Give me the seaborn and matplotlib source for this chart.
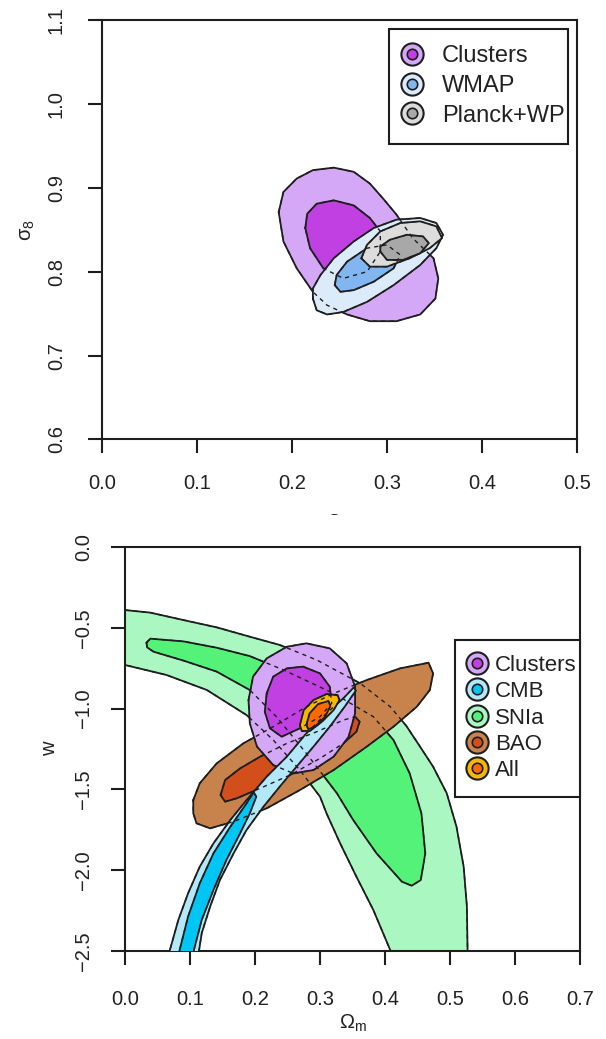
import numpy as np
import pandas as pd
import matplotlib
matplotlib.use("Agg")
import matplotlib.pyplot as plt
import seaborn as sns
from matplotlib.lines import Line2D
from matplotlib.legend_handler import HandlerTuple
from matplotlib.patches import Rectangle

# ------------------------------------------------------------------
# Top panel: sigma_8 vs Omega_m confidence contours
# ------------------------------------------------------------------
clus_s8_out_om = [0.186, 0.191, 0.205, 0.222, 0.244, 0.265, 0.282, 0.296, 0.310, 0.327, 0.349,
                  0.354, 0.351, 0.335, 0.310, 0.282, 0.258, 0.237, 0.222, 0.205, 0.191]
clus_s8_out_s8 = [0.871, 0.895, 0.911, 0.921, 0.924, 0.919, 0.905, 0.887, 0.868, 0.840, 0.816,
                  0.792, 0.768, 0.749, 0.741, 0.741, 0.749, 0.760, 0.776, 0.804, 0.836]
clus_s8_in_om = [0.214, 0.216, 0.226, 0.244, 0.265, 0.282, 0.293, 0.293, 0.279, 0.254, 0.233, 0.219]
clus_s8_in_s8 = [0.852, 0.869, 0.881, 0.885, 0.879, 0.864, 0.848, 0.824, 0.800, 0.792, 0.804, 0.828]

wmap_out_om = [0.222, 0.226, 0.237, 0.254, 0.279, 0.307, 0.335, 0.352, 0.359, 0.352, 0.335,
               0.310, 0.286, 0.265, 0.244, 0.230, 0.222]
wmap_out_s8 = [0.768, 0.754, 0.749, 0.752, 0.764, 0.784, 0.808, 0.828, 0.844, 0.858, 0.864,
               0.862, 0.852, 0.836, 0.816, 0.796, 0.780]
wmap_in_om = [0.245, 0.251, 0.265, 0.286, 0.307, 0.314, 0.300, 0.279, 0.258, 0.247]
wmap_in_s8 = [0.784, 0.776, 0.778, 0.788, 0.804, 0.820, 0.832, 0.828, 0.812, 0.796]

planck_out_om = [0.273, 0.282, 0.300, 0.324, 0.345, 0.358, 0.352, 0.335, 0.314, 0.293, 0.279]
planck_out_s8 = [0.816, 0.806, 0.806, 0.816, 0.828, 0.840, 0.854, 0.860, 0.858, 0.848, 0.832]
planck_in_om = [0.293, 0.300, 0.317, 0.335, 0.344, 0.338, 0.321, 0.303, 0.293]
planck_in_s8 = [0.824, 0.814, 0.814, 0.822, 0.834, 0.842, 0.844, 0.838, 0.830]

top_labels = ["Clusters", "WMAP", "Planck+WP"]
top_colors = [("#D4A8F7", "#C040E2"), ("#DCEBFA", "#82B6F0"), ("#DCDCDC", "#A8A8A8")]

# ------------------------------------------------------------------
# Bottom panel: w vs Omega_m confidence contours
# ------------------------------------------------------------------
snia_out_om = [0.000, 0.039, 0.090, 0.141, 0.192, 0.238, 0.295, 0.362, 0.408, 0.433, 0.454,
               0.474, 0.495, 0.510, 0.521, 0.526, 0.527, 0.528, 0.413, 0.408, 0.382, 0.356,
               0.331, 0.310, 0.300, 0.269, 0.228, 0.187, 0.126, 0.064, 0.000]
snia_out_w = [-0.390, -0.406, -0.452, -0.497, -0.555, -0.606, -0.699, -0.844, -0.988, -1.108,
              -1.236, -1.359, -1.524, -1.731, -1.978, -2.226, -2.494, -2.638, -2.638, -2.494,
              -2.246, -2.040, -1.834, -1.648, -1.545, -1.380, -1.194, -1.040, -0.885, -0.792, -0.730]
snia_in_om = [0.033, 0.039, 0.090, 0.141, 0.192, 0.244, 0.321, 0.382, 0.413, 0.438, 0.456, 0.462,
              0.455, 0.441, 0.426, 0.387, 0.351, 0.326, 0.279, 0.233, 0.192, 0.141, 0.090, 0.044, 0.034]
snia_in_w = [-0.592, -0.567, -0.584, -0.623, -0.675, -0.761, -0.906, -1.050, -1.194, -1.401,
             -1.648, -1.896, -2.061, -2.096, -2.071, -1.896, -1.689, -1.524, -1.277, -1.050,
             -0.885, -0.771, -0.703, -0.648, -0.621]

bao_out_om = [0.105, 0.115, 0.141, 0.182, 0.228, 0.279, 0.321, 0.372, 0.423, 0.467, 0.474,
              0.469, 0.449, 0.413, 0.372, 0.321, 0.269, 0.218, 0.167, 0.131, 0.110, 0.105]
bao_out_w = [-1.566, -1.462, -1.339, -1.215, -1.112, -0.988, -0.906, -0.823, -0.751, -0.716,
             -0.782, -0.885, -0.988, -1.112, -1.235, -1.380, -1.504, -1.617, -1.699, -1.741,
             -1.710, -1.648]
bao_in_om = [0.147, 0.154, 0.177, 0.208, 0.249, 0.295, 0.336, 0.354, 0.361, 0.356, 0.336,
             0.300, 0.254, 0.208, 0.172, 0.154]
bao_in_w = [-1.535, -1.442, -1.370, -1.297, -1.215, -1.143, -1.071, -1.050, -1.081, -1.143,
            -1.215, -1.308, -1.411, -1.493, -1.555, -1.576]

clus_w_out_om = [0.190, 0.197, 0.218, 0.249, 0.279, 0.315, 0.341, 0.354, 0.354, 0.344, 0.321,
                 0.290, 0.259, 0.228, 0.203, 0.192]
clus_w_out_w = [-0.947, -0.802, -0.689, -0.617, -0.596, -0.627, -0.720, -0.864, -1.029, -1.174,
                -1.297, -1.380, -1.401, -1.349, -1.235, -1.091]
clus_w_in_om = [0.218, 0.228, 0.249, 0.274, 0.300, 0.315, 0.318, 0.300, 0.269, 0.241, 0.223, 0.215]
clus_w_in_w = [-0.905, -0.802, -0.751, -0.740, -0.782, -0.864, -0.967, -1.050, -1.122, -1.174,
               -1.122, -1.019]

cmb_out_om = [0.062, 0.069, 0.082, 0.097, 0.115, 0.136, 0.162, 0.187, 0.218, 0.249, 0.279, 0.310,
              0.336, 0.352, 0.355, 0.338, 0.315, 0.290, 0.264, 0.238, 0.213, 0.187, 0.167, 0.146,
              0.131, 0.118, 0.114, 0.110]
cmb_out_w = [-2.638, -2.494, -2.308, -2.143, -1.978, -1.834, -1.689, -1.566, -1.421, -1.297,
             -1.153, -1.029, -0.936, -0.868, -0.889, -0.988, -1.112, -1.235, -1.359, -1.483,
             -1.607, -1.751, -1.896, -2.061, -2.225, -2.390, -2.494, -2.638]
cmb_in_om = [0.079, 0.084, 0.097, 0.115, 0.136, 0.162, 0.187, 0.198, 0.202, 0.192, 0.177, 0.156,
             0.136, 0.118, 0.106, 0.103]
cmb_in_w = [-2.638, -2.494, -2.287, -2.081, -1.896, -1.731, -1.586, -1.518, -1.545, -1.648,
            -1.772, -1.937, -2.123, -2.308, -2.494, -2.638]

all_out_om = [0.269, 0.275, 0.290, 0.310, 0.327, 0.330, 0.321, 0.303, 0.285, 0.272]
all_out_w = [-1.102, -1.009, -0.947, -0.910, -0.916, -0.947, -1.009, -1.081, -1.137, -1.139]
all_in_om = [0.279, 0.284, 0.297, 0.313, 0.316, 0.308, 0.292, 0.282]
all_in_w = [-1.101, -1.029, -0.972, -0.953, -0.984, -1.050, -1.112, -1.128]

bot_labels = ["Clusters", "CMB", "SNIa", "BAO", "All"]
bot_colors = [("#D4A8F7", "#C040E2"), ("#B2E8FA", "#00C6F6"), ("#AAF7C2", "#55F27A"),
              ("#C8824C", "#D24E1A"), ("#F7B800", "#FF6A00")]

top_xticks = [0.0, 0.1, 0.2, 0.3, 0.4, 0.5]
top_yticks = [0.6, 0.7, 0.8, 0.9, 1.0, 1.1]
bot_xticks = [0.0, 0.1, 0.2, 0.3, 0.4, 0.5, 0.6, 0.7]
bot_yticks = [-2.5, -2.0, -1.5, -1.0, -0.5, 0.0]

# ------------------------------------------------------------------
sns.set_style("white")
plt.rcParams["font.family"] = ["Liberation Sans", "DejaVu Sans"]
plt.rcParams["mathtext.fontset"] = "custom"
plt.rcParams["mathtext.rm"] = "Liberation Serif"
plt.rcParams["mathtext.it"] = "Liberation Serif:italic"

INK = "#1e1e1e"
TXT = "#222222"
W, H = 606.0, 1039.0
fig = plt.figure(figsize=(6.06, 10.39), dpi=100)
ax1 = fig.add_axes([0.1683, 0.5770, 0.9521 - 0.1683, 0.9808 - 0.5770], zorder=0)
ax2 = fig.add_axes([0.2063, 0.0847, 0.9571 - 0.2063, 0.4735 - 0.0847], zorder=2)

# white band hiding the lower part of the top panel's x label (as in the original)
fig.add_artist(Rectangle((0, 0), 1, 1 - 515 / H, transform=fig.transFigure,
                         facecolor="white", edgecolor="none", zorder=1))


def closed(xs, ys):
    return list(xs) + [xs[0]], list(ys) + [ys[0]]


def draw(ax, xs, ys, fc, z):
    ax.fill(xs, ys, facecolor=fc, edgecolor="none", zorder=z)
    cx, cy = closed(xs, ys)
    df = pd.DataFrame({"x": cx, "y": cy})
    sns.lineplot(data=df, x="x", y="y", sort=False, estimator=None, color=INK,
                 lw=1.3, ax=ax, zorder=z + 0.5, legend=False)


def dashed(ax, xs, ys):
    cx, cy = closed(xs, ys)
    ax.plot(cx, cy, color=INK, lw=1.0, ls=(0, (3, 3)), zorder=50)


top_layers = [
    (clus_s8_out_om, clus_s8_out_s8, top_colors[0][0]),
    (clus_s8_in_om, clus_s8_in_s8, top_colors[0][1]),
    (wmap_out_om, wmap_out_s8, top_colors[1][0]),
    (wmap_in_om, wmap_in_s8, top_colors[1][1]),
    (planck_out_om, planck_out_s8, top_colors[2][0]),
    (planck_in_om, planck_in_s8, top_colors[2][1]),
]
for i, (xs, ys, c) in enumerate(top_layers):
    draw(ax1, xs, ys, c, 2 + 2 * i)
for xs, ys, c in top_layers:
    dashed(ax1, xs, ys)

bot_layers = [
    (snia_out_om, snia_out_w, bot_colors[2][0]),
    (snia_in_om, snia_in_w, bot_colors[2][1]),
    (bao_out_om, bao_out_w, bot_colors[3][0]),
    (bao_in_om, bao_in_w, bot_colors[3][1]),
    (clus_w_out_om, clus_w_out_w, bot_colors[0][0]),
    (clus_w_in_om, clus_w_in_w, bot_colors[0][1]),
    (cmb_out_om, cmb_out_w, bot_colors[1][0]),
    (cmb_in_om, cmb_in_w, bot_colors[1][1]),
    (all_out_om, all_out_w, bot_colors[4][0]),
    (all_in_om, all_in_w, bot_colors[4][1]),
]
for i, (xs, ys, c) in enumerate(bot_layers):
    draw(ax2, xs, ys, c, 2 + 2 * i)
for xs, ys, c in bot_layers:
    dashed(ax2, xs, ys)


def style_axes(ax, xt, yt, xpad, ypad):
    ax.set_xlim(xt[0], xt[-1])
    ax.set_ylim(yt[0], yt[-1])
    ax.set_xticks(xt)
    ax.set_yticks(yt)
    ax.set_xticklabels([f"{v:.1f}".replace("-", "\u2212") for v in xt])
    ax.set_yticklabels([f"{v:.1f}".replace("-", "\u2212") for v in yt])
    for s in ax.spines.values():
        s.set_visible(True)
        s.set_color(INK)
        s.set_linewidth(1.5)
    ax.tick_params(axis="both", direction="out", length=10, width=1.5, color=INK,
                   labelsize=14.5, labelcolor=TXT, bottom=True, left=True)
    ax.tick_params(axis="x", pad=xpad)
    ax.tick_params(axis="y", pad=ypad)
    for lab in ax.get_yticklabels():
        lab.set_rotation(90)
        lab.set_va("center")


style_axes(ax1, top_xticks, top_yticks, xpad=15, ypad=16)
style_axes(ax2, bot_xticks, bot_yticks, xpad=18, ypad=13)

ax1.set_ylabel(r"$\mathregular{\sigma_8}$", fontsize=14.5, labelpad=7, color=TXT)
ax1.set_xlabel(r"$\mathregular{\Omega_m}$", fontsize=14.5, labelpad=14, color=TXT)
ax2.set_ylabel("w", fontsize=14.5, labelpad=11, color=TXT)
ax2.set_xlabel(r"$\mathregular{\Omega_m}$", fontsize=14.5, labelpad=3, color=TXT)


def handles(colors):
    hs = []
    for outer, inner in colors:
        h1 = Line2D([], [], ls="none", marker="o", ms=16, mfc=outer, mec=INK, mew=1.5)
        h2 = Line2D([], [], ls="none", marker="o", ms=7.5, mfc=inner, mec=INK, mew=1.2)
        hs.append((h1, h2))
    return hs


# legend frames (R-style boxes) and entries
legend_specs = [
    # ax, colors, labels, box (x0, y0, x1, y1 px), entry anchor (px), fontsize, handletextpad, labelspacing
    (ax1, top_colors, top_labels, (389, 29, 568, 144), (396.7, 86), 17, 0.62, 0.32),
    (ax2, bot_colors, bot_labels, (455, 640, 580, 797), (462.6, 718), 16, 0.16, 0.24),
]
for ax, cols, labs, box, anc, fs, tp, lsp in legend_specs:
    x0, y0, x1, y1 = box
    ax.add_patch(Rectangle((x0 / W, 1 - y1 / H), (x1 - x0) / W, (y1 - y0) / H,
                           transform=fig.transFigure, facecolor="white", edgecolor=INK,
                           lw=1.5, zorder=90, clip_on=False))
    leg = ax.legend(handles(cols), labs, handler_map={tuple: HandlerTuple(ndivide=1)},
                    loc="center left", bbox_to_anchor=(anc[0] / W, 1 - anc[1] / H),
                    bbox_transform=fig.transFigure, borderaxespad=0, borderpad=0,
                    frameon=False, fontsize=fs, handlelength=1.3, handletextpad=tp,
                    labelspacing=lsp)
    for t in leg.get_texts():
        t.set_color(TXT)
    leg.set_zorder(100)

fig.savefig("out.png", dpi=100, facecolor="white")
